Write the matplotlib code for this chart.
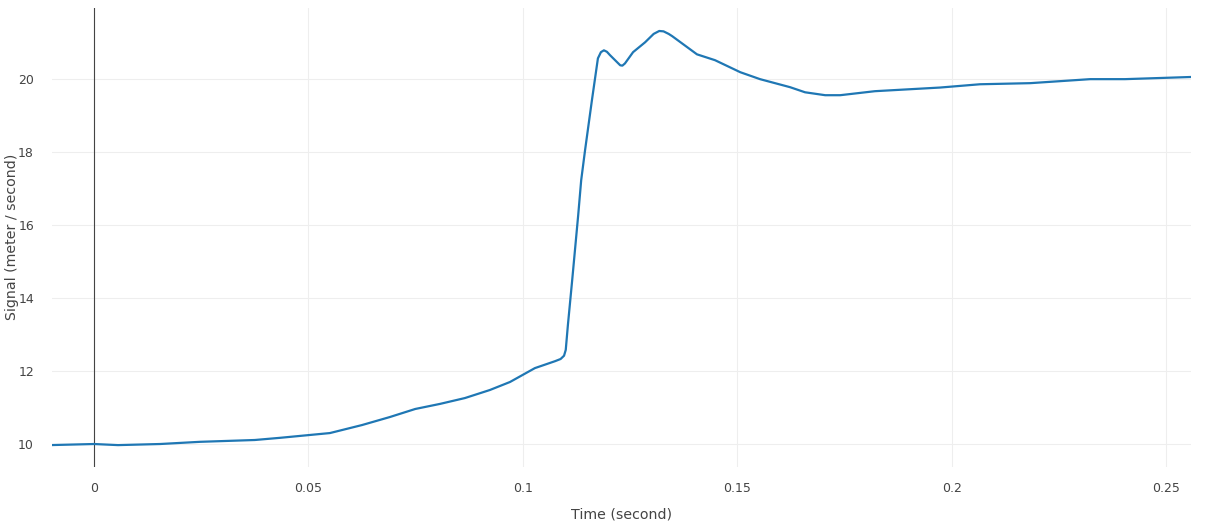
#!/usr/bin/env python3
"""Signal vs time trace, plotly-like styling."""

import matplotlib
matplotlib.use("Agg")
import matplotlib.pyplot as plt

# time (second) and signal (meter / second)
time_s = [
    -0.0103, 0.0, 0.0056, 0.0154, 0.0247, 0.0375, 0.0434, 0.055, 0.0625,
    0.069, 0.0749, 0.0807, 0.0865, 0.0923, 0.097, 0.1028, 0.1075, 0.1088,
    0.1096, 0.1100, 0.1105, 0.1115, 0.1129, 0.1136, 0.1145, 0.1161, 0.1175,
    0.1182, 0.1189, 0.1196, 0.1203, 0.1227, 0.1232, 0.1238, 0.1257, 0.1285,
    0.1305, 0.1318, 0.1328, 0.1340, 0.1348, 0.1406, 0.1448, 0.1507, 0.1553,
    0.1623, 0.1658, 0.1705, 0.174, 0.1821, 0.1973, 0.2066, 0.2183, 0.2323,
    0.2404, 0.2560,
]
signal = [
    9.97, 10.0, 9.97, 10.0, 10.06, 10.11, 10.17, 10.30, 10.52,
    10.74, 10.96, 11.10, 11.26, 11.48, 11.70, 12.08, 12.27, 12.33,
    12.42, 12.58, 13.26, 14.49, 16.27, 17.23, 18.05, 19.42, 20.57,
    20.74, 20.79, 20.75, 20.66, 20.38, 20.37, 20.43, 20.74, 21.01,
    21.24, 21.32, 21.31, 21.24, 21.18, 20.68, 20.52, 20.19, 20.0,
    19.78, 19.64, 19.56, 19.56, 19.67, 19.77, 19.86, 19.89, 20.0,
    20.0, 20.06,
]
x_ticks = [0, 0.05, 0.1, 0.15, 0.2, 0.25]
x_tick_labels = ["0", "0.05", "0.1", "0.15", "0.2", "0.25"]
y_ticks = [10, 12, 14, 16, 18, 20]

W, H = 1205, 529
plt.rcParams["font.family"] = ["DejaVu Sans"]

fig = plt.figure(figsize=(W / 100, H / 100), dpi=100)
left, right, top, bottom = 52, 1191, 8, 467
ax = fig.add_axes([left / W, 1 - bottom / H, (right - left) / W, (bottom - top) / H])

ax.plot(time_s, signal, color="#1f77b4", linewidth=1.6, solid_joinstyle="round",
        solid_capstyle="round", zorder=3)
ax.axvline(0, color="#444444", linewidth=0.8, zorder=2)

ax.set_xlim(-0.0098, 0.2558)
ax.set_ylim(9.37, 21.95)
ax.set_xticks(x_ticks)
ax.set_xticklabels(x_tick_labels)
ax.set_yticks(y_ticks)
ax.grid(True, color="#eeeeee", linewidth=0.8, zorder=0)
ax.set_axisbelow(True)
for s in ax.spines.values():
    s.set_visible(False)
ax.tick_params(length=0, labelsize=9, colors="#444444")
ax.tick_params(axis="x", pad=11)
ax.tick_params(axis="y", pad=13)

ax.set_xlabel("Time (second)", fontsize=10.2, color="#444444", labelpad=9)
fig.text(12 / W, 1 - 237 / H, "Signal (meter / second)", rotation=90,
         ha="center", va="center", fontsize=10.2, color="#444444")

fig.savefig("out.png", dpi=100)
